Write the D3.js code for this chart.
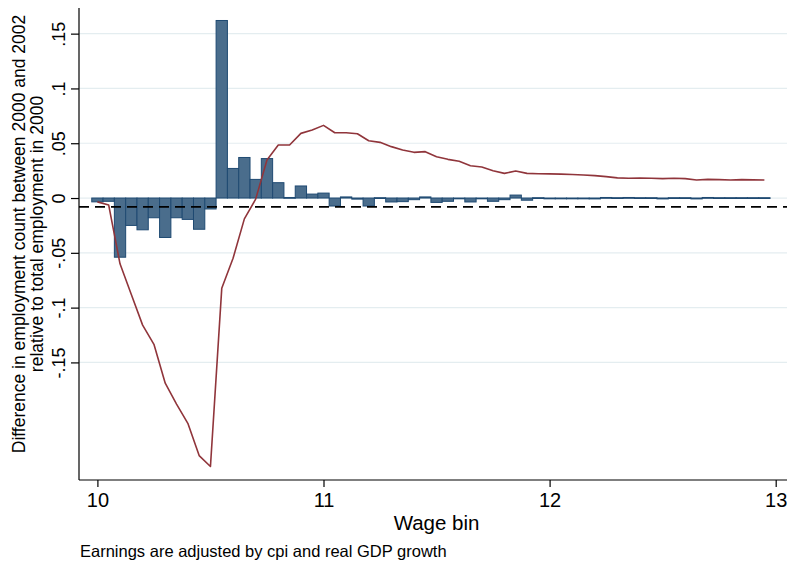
<!DOCTYPE html>
<html>
<head>
<meta charset="utf-8">
<script src="https://cdn.jsdelivr.net/npm/d3@7"></script>
<style>
  body { margin: 0; background: #fff; }
  text { font-family: "Liberation Sans", Arial, sans-serif; fill: #000; }
</style>
</head>
<body>
<div id="chart"></div>
<script>
const bins = d3.range(0, 60).map((i) => +(10 + i * 0.05).toFixed(2));

const barValues = [
  -0.0035, -0.003, -0.054, -0.025, -0.029, -0.018, -0.036, -0.018, -0.0195, -0.0285,
  -0.010, 0.162, 0.027, 0.037, 0.017, 0.036, 0.014, 0.0005, 0.011, 0.0036,
  0.0045, -0.0073, 0.001, -0.001, -0.0073, 0.0003, -0.0036, -0.0033, -0.0015, 0.001,
  -0.004, -0.003, -0.0006, -0.0036, -0.0003, -0.003, -0.0015, 0.0027, -0.002, 0.0003,
  -0.0005, -0.0005, -0.0005, -0.0005, -0.0008, 0.0005, 0.0003, 0.0005, 0.0003, 0.0003,
  -0.0008, 0.0003, 0.0003, -0.0008, 0.0005, 0.0003, 0.0003, 0.0003, 0.0003, 0.0003
];

const lineValues = [
  -0.0035, -0.0064, -0.060, -0.088, -0.116, -0.1335, -0.169, -0.188, -0.2056, -0.235,
  -0.245, -0.0824, -0.055, -0.019, -0.001, 0.0347, 0.0484, 0.0484, 0.059, 0.062,
  0.0663, 0.0596, 0.0596, 0.0587, 0.0523, 0.0508, 0.0469, 0.0438, 0.0417, 0.0423,
  0.0377, 0.0353, 0.0335, 0.0295, 0.0283, 0.0249, 0.0225, 0.0246, 0.0225, 0.0222,
  0.0220, 0.0218, 0.0215, 0.021, 0.0204, 0.0195, 0.0184, 0.018, 0.0182, 0.018,
  0.0177, 0.018, 0.0177, 0.0165, 0.017, 0.0168, 0.0165, 0.0168, 0.0166, 0.0164
];

const refLine = -0.008;
const xTicks = [10, 11, 12, 13];
const yTicks = [-0.15, -0.1, -0.05, 0, 0.05, 0.1, 0.15];
const yTickLabels = ['-.15', '-.1', '-.05', '0', '.05', '.1', '.15'];
const yTitle = ['Difference in employment count between 2000 and 2002',
                'relative to total employment in 2000'];
const xTitle = 'Wage bin';
const note = 'Earnings are adjusted by cpi and real GDP growth';

const W = 787, H = 563;
const margin = { top: 8, right: 0, bottom: 83, left: 79 };

const svg = d3.select('#chart').append('svg')
  .attr('width', W).attr('height', H);

const x = d3.scaleLinear()
  .domain([9.9186, 13.05])
  .range([margin.left, W - margin.right]);

const y = d3.scaleLinear()
  .domain([-0.2573, 0.1734])
  .range([H - margin.bottom, margin.top]);

// gridlines
svg.append('g')
  .selectAll('line')
  .data(yTicks)
  .join('line')
  .attr('x1', margin.left).attr('x2', W)
  .attr('y1', (d) => y(d)).attr('y2', (d) => y(d))
  .attr('stroke', '#e4edf0').attr('stroke-width', 1.2);

// bars
const bw = x(10.05) - x(10);
svg.append('g')
  .selectAll('rect')
  .data(bins.map((b, i) => ({ b, v: barValues[i] })))
  .join('rect')
  .attr('x', (d) => x(d.b) - bw / 2)
  .attr('width', bw)
  .attr('y', (d) => y(Math.max(0, d.v)))
  .attr('height', (d) => Math.max(0.8, Math.abs(y(d.v) - y(0))))
  .attr('fill', '#4a6d8c')
  .attr('stroke', '#1f4a72')
  .attr('stroke-width', 1);

// dashed reference line
svg.append('line')
  .attr('x1', margin.left).attr('x2', W)
  .attr('y1', y(refLine)).attr('y2', y(refLine))
  .attr('stroke', '#000').attr('stroke-width', 1.7)
  .attr('stroke-dasharray', '10,6');

// red line
const line = d3.line()
  .x((d, i) => x(bins[i]))
  .y((d) => y(d));

svg.append('path')
  .datum(lineValues)
  .attr('d', line)
  .attr('fill', 'none')
  .attr('stroke', '#90353b')
  .attr('stroke-width', 1.6)
  .attr('stroke-linejoin', 'round');

// axes
const font = '"Liberation Sans", Arial, sans-serif';

const xAxis = svg.append('g')
  .attr('transform', `translate(0, ${H - margin.bottom})`)
  .call(d3.axisBottom(x).tickValues(xTicks).tickFormat(d3.format('d')).tickSize(7).tickPadding(6));
xAxis.select('.domain').attr('stroke', '#000').attr('stroke-width', 1.2).attr('d', `M${margin.left},0H${W}`);
xAxis.selectAll('.tick line').attr('stroke', '#000').attr('stroke-width', 1.2);
xAxis.selectAll('.tick text').attr('font-size', 20).attr('font-family', font);

const yAxis = svg.append('g')
  .attr('transform', `translate(${margin.left}, 0)`)
  .call(d3.axisLeft(y).tickValues(yTicks).tickFormat((d, i) => yTickLabels[i]).tickSize(8));
yAxis.select('.domain').attr('stroke', '#000').attr('stroke-width', 1.2)
  .attr('d', `M0,${margin.top}V${H - margin.bottom}`);
yAxis.selectAll('.tick line').attr('stroke', '#000').attr('stroke-width', 1.2);
yAxis.selectAll('.tick text')
  .attr('font-size', 18)
  .attr('font-family', font)
  .attr('x', null).attr('dy', null)
  .attr('text-anchor', 'middle')
  .attr('transform', 'translate(-14, 0) rotate(-90)');

// titles
svg.append('g')
  .attr('transform', `translate(0, 234) rotate(-90)`)
  .selectAll('text')
  .data(yTitle)
  .join('text')
  .attr('x', 0)
  .attr('y', (d, i) => 25 + i * 18)
  .attr('text-anchor', 'middle')
  .attr('font-size', 17.5)
  .text((d) => d);

svg.append('text')
  .attr('x', (x(10) + x(13)) / 2)
  .attr('y', 530)
  .attr('text-anchor', 'middle')
  .attr('font-size', 20.5)
  .text(xTitle);

svg.append('text')
  .attr('x', 80)
  .attr('y', 557)
  .attr('font-size', 16.5)
  .text(note);
</script>
</body>
</html>
